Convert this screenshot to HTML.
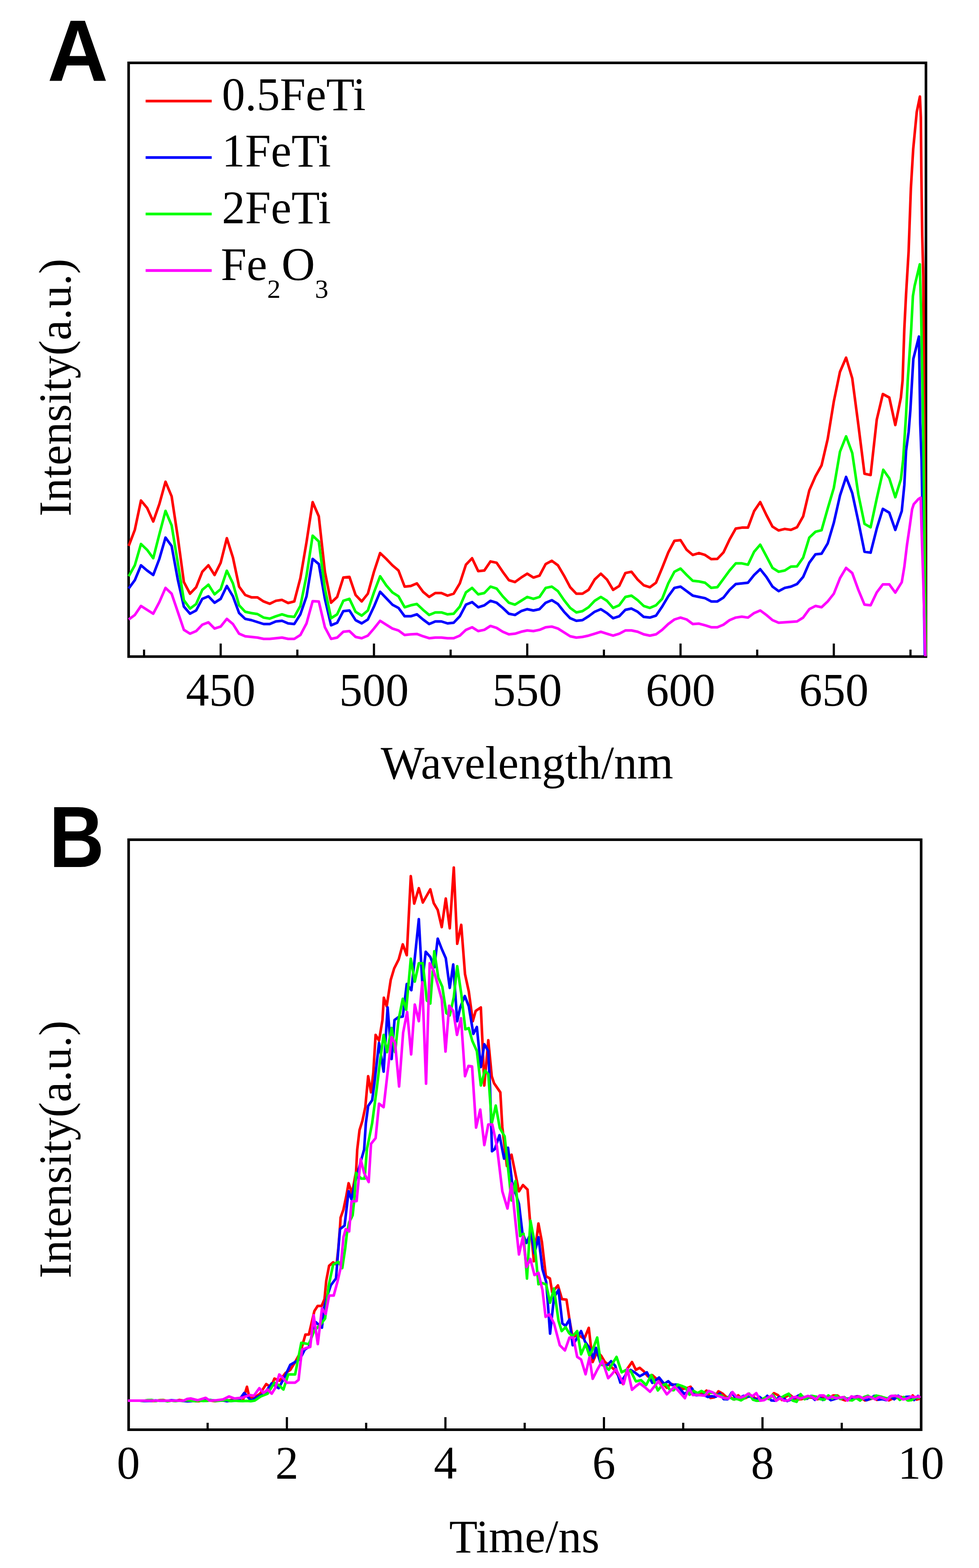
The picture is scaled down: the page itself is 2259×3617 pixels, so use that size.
<!DOCTYPE html><html><head><meta charset="utf-8"><title>Figure</title>
<style>html,body{margin:0;padding:0;background:#fff;}svg{display:block;}</style></head><body>
<svg width="2259" height="3617" viewBox="0 0 2259 3617">
<rect width="2259" height="3617" fill="#fff"/>
<path d="M332.4 1514.6V1498.6M509.2 1514.6V1484.6M686.1 1514.6V1498.6M862.9 1514.6V1484.6M1039.8 1514.6V1498.6M1216.6 1514.6V1484.6M1393.5 1514.6V1498.6M1570.3 1514.6V1484.6M1747.2 1514.6V1498.6M1924.0 1514.6V1484.6M2100.9 1514.6V1498.6" stroke="#000" stroke-width="5" fill="none"/>
<rect x="296.8" y="145.0" width="1839.8" height="1369.6" fill="none" stroke="#000" stroke-width="6.0"/>
<g fill="none" stroke-linejoin="round" stroke-linecap="butt" stroke-width="6.0">
<path stroke="#ff0000" d="M297.0 1259.4L311.1 1222.2L325.3 1154.6L339.4 1171.6L353.6 1202.9L367.7 1162.7L381.9 1111.2L396.0 1144.8L410.2 1238.6L424.3 1342.7L438.5 1369.5L452.6 1354.6L466.8 1318.9L480.9 1304.0L495.1 1326.4L509.2 1298.1L523.4 1241.5L537.5 1286.2L551.7 1353.2L565.8 1372.5L580.0 1377.9L594.1 1377.9L608.3 1387.4L622.4 1392.7L636.6 1385.9L650.7 1383.8L664.8 1391.0L679.0 1387.4L693.1 1333.8L707.3 1250.5L721.4 1158.2L735.6 1191.0L749.7 1318.9L763.9 1390.4L778.0 1377.0L792.2 1332.3L806.3 1330.8L820.5 1372.5L834.6 1387.4L848.8 1369.5L862.9 1318.9L877.1 1275.8L891.2 1289.2L905.4 1304.0L919.5 1316.0L933.7 1353.2L947.8 1351.7L962.0 1345.7L976.1 1365.1L990.3 1377.0L1004.4 1368.0L1018.5 1368.0L1032.7 1374.0L1046.8 1369.5L1061.0 1345.7L1075.1 1302.6L1089.3 1287.7L1103.4 1317.4L1117.6 1316.0L1131.7 1295.1L1145.9 1298.1L1160.0 1318.9L1174.2 1338.3L1188.3 1342.7L1202.5 1332.3L1216.6 1323.4L1230.8 1332.3L1244.9 1327.9L1259.1 1301.1L1273.2 1293.6L1287.4 1304.0L1301.5 1327.9L1315.7 1354.6L1329.8 1369.5L1344.0 1369.5L1358.1 1360.6L1372.2 1336.8L1386.4 1323.4L1400.5 1336.8L1414.7 1360.6L1428.8 1351.7L1443.0 1321.9L1457.1 1318.9L1471.3 1336.8L1485.4 1350.2L1499.6 1354.6L1513.7 1344.2L1527.9 1310.0L1542.0 1274.3L1556.2 1247.5L1570.3 1246.0L1584.5 1268.3L1598.6 1280.2L1612.8 1275.8L1626.9 1280.2L1641.1 1289.8L1655.2 1289.2L1669.4 1274.3L1683.5 1244.5L1697.7 1219.2L1711.8 1217.1L1725.9 1217.1L1740.1 1179.0L1754.2 1158.2L1768.4 1188.0L1782.5 1214.8L1796.7 1223.7L1810.8 1220.1L1825.0 1222.2L1839.1 1216.2L1853.3 1191.0L1867.4 1131.4L1881.6 1098.8L1895.7 1073.5L1909.9 1012.5L1924.0 926.0L1938.2 857.7L1952.3 825.0L1966.5 872.6L1980.6 979.8L1994.8 1092.9L2008.9 1095.8L2023.1 967.9L2037.1 909.0L2052.0 917.0L2065.9 980.5L2078.8 917.0L2082.7 877.4L2086.7 758.4L2090.7 679.0L2096.6 580.0L2101.8 434.5L2107.2 343.6L2115.4 258.0L2122.7 222.7L2124.8 271.0L2126.0 400.0L2128.0 543.0L2130.5 640.0L2136.0 1512.0"/>
<path stroke="#0000ff" d="M297.0 1357.6L311.1 1338.3L325.3 1304.0L339.4 1316.0L353.6 1326.4L367.7 1289.2L381.9 1240.1L396.0 1259.4L410.2 1336.8L424.3 1399.3L438.5 1415.7L452.6 1408.2L466.8 1381.4L480.9 1375.5L495.1 1390.4L509.2 1381.4L523.4 1351.7L537.5 1375.5L551.7 1414.2L565.8 1427.6L580.0 1430.5L594.1 1435.0L608.3 1439.5L622.4 1439.5L636.6 1433.5L650.7 1432.0L664.8 1438.0L679.0 1439.5L693.1 1417.1L707.3 1375.5L721.4 1289.2L735.6 1301.1L749.7 1381.4L763.9 1442.4L778.0 1436.5L792.2 1409.7L806.3 1408.2L820.5 1430.5L834.6 1438.0L848.8 1429.0L862.9 1399.3L877.1 1365.1L891.2 1379.9L905.4 1394.8L919.5 1402.3L933.7 1421.6L947.8 1421.6L962.0 1417.1L976.1 1429.0L990.3 1439.5L1004.4 1433.5L1018.5 1433.5L1032.7 1438.0L1046.8 1436.5L1061.0 1421.6L1075.1 1394.8L1089.3 1388.9L1103.4 1400.8L1117.6 1396.3L1131.7 1385.9L1145.9 1390.4L1160.0 1402.3L1174.2 1415.7L1188.3 1418.6L1202.5 1409.7L1216.6 1405.2L1230.8 1408.2L1244.9 1405.2L1259.1 1390.4L1273.2 1384.4L1287.4 1393.3L1301.5 1411.2L1315.7 1426.1L1329.8 1432.0L1344.0 1430.5L1358.1 1421.6L1372.2 1411.2L1386.4 1405.2L1400.5 1414.2L1414.7 1426.1L1428.8 1421.6L1443.0 1406.7L1457.1 1403.8L1471.3 1411.2L1485.4 1423.1L1499.6 1424.6L1513.7 1420.1L1527.9 1399.3L1542.0 1375.5L1556.2 1356.1L1570.3 1353.2L1584.5 1363.6L1598.6 1374.0L1612.8 1377.0L1626.9 1379.9L1641.1 1387.4L1655.2 1387.4L1669.4 1378.5L1683.5 1360.6L1697.7 1347.2L1711.8 1345.7L1725.9 1344.2L1740.1 1326.4L1754.2 1313.0L1768.4 1330.8L1782.5 1353.2L1796.7 1363.6L1810.8 1356.1L1825.0 1353.2L1839.1 1347.2L1853.3 1330.8L1867.4 1298.1L1881.6 1278.8L1895.7 1277.3L1909.9 1253.5L1924.0 1205.8L1938.2 1143.3L1952.3 1100.2L1966.5 1137.4L1980.6 1202.9L1994.8 1272.8L2008.9 1274.9L2023.3 1218.4L2037.1 1173.8L2052.0 1182.7L2065.9 1222.4L2080.8 1178.8L2086.7 1119.0L2090.7 1040.0L2096.6 996.3L2100.6 946.8L2104.6 877.4L2107.5 827.8L2112.5 808.0L2120.4 776.3L2121.4 837.7L2123.4 976.5L2126.4 1060.0L2134.0 1512.0"/>
<path stroke="#00ff00" d="M297.0 1329.3L311.1 1304.0L325.3 1254.9L339.4 1268.3L353.6 1287.7L367.7 1232.6L381.9 1178.5L396.0 1211.8L410.2 1298.1L424.3 1384.4L438.5 1403.8L452.6 1393.3L466.8 1360.6L480.9 1348.7L495.1 1371.0L509.2 1359.1L523.4 1316.5L537.5 1345.7L551.7 1396.3L565.8 1411.2L580.0 1414.2L594.1 1416.5L608.3 1424.6L622.4 1427.0L636.6 1421.6L650.7 1417.1L664.8 1421.6L679.0 1423.1L693.1 1397.8L707.3 1327.9L721.4 1235.6L735.6 1249.0L749.7 1357.6L763.9 1426.1L778.0 1417.1L792.2 1385.9L806.3 1381.4L820.5 1411.2L834.6 1420.1L848.8 1408.2L862.9 1366.5L877.1 1329.3L891.2 1350.2L905.4 1366.5L919.5 1375.5L933.7 1400.8L947.8 1396.3L962.0 1393.3L976.1 1406.7L990.3 1418.6L1004.4 1412.7L1018.5 1412.7L1032.7 1417.1L1046.8 1415.7L1061.0 1399.3L1075.1 1366.5L1089.3 1356.1L1103.4 1371.0L1117.6 1368.0L1131.7 1353.2L1145.9 1357.6L1160.0 1375.5L1174.2 1390.4L1188.3 1394.8L1202.5 1385.9L1216.6 1377.0L1230.8 1381.4L1244.9 1377.0L1259.1 1356.1L1273.2 1353.2L1287.4 1363.6L1301.5 1384.4L1315.7 1402.3L1329.8 1412.7L1344.0 1409.7L1358.1 1400.8L1372.2 1385.9L1386.4 1377.0L1400.5 1385.9L1414.7 1402.3L1428.8 1396.3L1443.0 1377.0L1457.1 1374.0L1471.3 1384.4L1485.4 1397.8L1499.6 1402.3L1513.7 1396.3L1527.9 1381.4L1542.0 1345.7L1556.2 1318.9L1570.3 1311.5L1584.5 1326.4L1598.6 1339.8L1612.8 1341.2L1626.9 1344.2L1641.1 1356.1L1655.2 1354.6L1669.4 1335.3L1683.5 1316.0L1697.7 1299.6L1711.8 1299.6L1725.9 1302.6L1740.1 1272.8L1754.2 1256.4L1768.4 1283.2L1782.5 1310.0L1796.7 1318.9L1810.8 1316.0L1825.0 1307.0L1839.1 1306.4L1853.3 1286.2L1867.4 1240.1L1881.6 1226.7L1895.7 1223.1L1909.9 1173.1L1924.0 1125.5L1938.2 1042.0L1952.3 1006.5L1966.5 1045.0L1980.6 1140.5L1994.8 1208.5L2008.9 1216.4L2023.3 1149.0L2038.1 1083.6L2052.0 1103.4L2065.9 1147.0L2078.8 1105.4L2084.0 1060.0L2090.7 956.7L2094.6 877.0L2098.6 818.0L2102.6 758.4L2106.5 683.0L2110.5 659.3L2122.4 609.7L2125.4 718.8L2128.3 877.4L2131.3 1060.0L2136.0 1512.0"/>
<path stroke="#ff00ff" d="M297.0 1429.0L311.1 1418.6L325.3 1397.8L339.4 1406.7L353.6 1415.7L367.7 1388.9L381.9 1356.1L396.0 1369.5L410.2 1411.2L424.3 1452.9L438.5 1461.8L452.6 1455.8L466.8 1441.0L480.9 1435.6L495.1 1449.9L509.2 1445.4L523.4 1427.6L537.5 1439.5L551.7 1461.8L565.8 1467.7L580.0 1469.2L594.1 1470.7L608.3 1473.7L622.4 1473.7L636.6 1472.2L650.7 1470.7L664.8 1473.7L679.0 1473.7L693.1 1464.8L707.3 1438.0L721.4 1386.8L735.6 1387.4L749.7 1446.9L763.9 1473.7L778.0 1470.7L792.2 1457.3L806.3 1455.8L820.5 1469.2L834.6 1472.2L848.8 1466.2L862.9 1449.9L877.1 1432.0L891.2 1441.0L905.4 1449.9L919.5 1454.3L933.7 1464.8L947.8 1463.3L962.0 1462.4L976.1 1467.7L990.3 1472.2L1004.4 1470.7L1018.5 1470.7L1032.7 1472.2L1046.8 1472.2L1061.0 1466.2L1075.1 1452.9L1089.3 1446.9L1103.4 1455.8L1117.6 1452.9L1131.7 1443.9L1145.9 1448.4L1160.0 1457.3L1174.2 1463.3L1188.3 1461.8L1202.5 1457.3L1216.6 1454.3L1230.8 1455.8L1244.9 1452.9L1259.1 1446.9L1273.2 1445.4L1287.4 1449.9L1301.5 1458.8L1315.7 1467.7L1329.8 1470.7L1344.0 1469.2L1358.1 1466.2L1372.2 1461.8L1386.4 1457.3L1400.5 1461.8L1414.7 1466.2L1428.8 1461.8L1443.0 1454.3L1457.1 1454.3L1471.3 1457.3L1485.4 1463.3L1499.6 1466.2L1513.7 1463.3L1527.9 1452.9L1542.0 1439.5L1556.2 1429.0L1570.3 1424.6L1584.5 1429.0L1598.6 1439.5L1612.8 1438.6L1626.9 1442.4L1641.1 1446.9L1655.2 1446.9L1669.4 1441.0L1683.5 1430.5L1697.7 1424.6L1711.8 1422.5L1725.9 1424.6L1740.1 1414.2L1754.2 1408.2L1768.4 1418.6L1782.5 1430.5L1796.7 1436.5L1810.8 1435.6L1825.0 1434.4L1839.1 1433.5L1853.3 1424.6L1867.4 1405.2L1881.6 1397.8L1895.7 1400.8L1909.9 1387.4L1924.0 1369.5L1938.2 1333.8L1952.3 1310.0L1966.5 1321.9L1980.6 1360.6L1994.8 1394.8L2008.9 1396.3L2023.1 1366.5L2037.1 1348.0L2052.0 1348.0L2065.9 1367.0L2080.8 1343.0L2086.7 1307.6L2092.7 1258.0L2098.6 1218.0L2104.6 1174.8L2108.5 1163.0L2119.4 1151.0L2124.4 1148.0L2126.4 1218.0L2130.3 1337.0L2135.3 1514.0"/>
</g>
<line x1="336" x2="488.5" y1="233.1" y2="233.1" stroke="#ff0000" stroke-width="6.3"/>
<line x1="336" x2="488.5" y1="363.4" y2="363.4" stroke="#0000ff" stroke-width="6.3"/>
<line x1="336" x2="488.5" y1="493.7" y2="493.7" stroke="#00ff00" stroke-width="6.3"/>
<line x1="336" x2="488.5" y1="624.0" y2="624.0" stroke="#ff00ff" stroke-width="6.3"/>
<g font-family="'Liberation Serif','Times New Roman',serif" font-size="107" fill="#000">
<text x="512" y="253.7">0.5FeTi</text>
<text x="512" y="384.35">1FeTi</text>
<text x="512" y="515">2FeTi</text>
<text x="509.5" y="645.7">Fe<tspan font-size="62" dy="41.3">2</tspan><tspan dy="-41.3" dx="2">O</tspan><tspan font-size="62" dy="41.3">3</tspan></text>
<text x="509.2" y="1628" text-anchor="middle">450</text>
<text x="862.9" y="1628" text-anchor="middle">500</text>
<text x="1216.6" y="1628" text-anchor="middle">550</text>
<text x="1570.3" y="1628" text-anchor="middle">600</text>
<text x="1924.0" y="1628" text-anchor="middle">650</text>
<text x="1216" y="1796" text-anchor="middle">Wavelength/nm</text>
<text font-size="106" transform="translate(163 894) rotate(-90)" text-anchor="middle">Intensity(a.u.)</text>
<text x="296.2" y="3411" text-anchor="middle">0</text>
<text x="662.0" y="3411" text-anchor="middle">2</text>
<text x="1027.8" y="3411" text-anchor="middle">4</text>
<text x="1393.6" y="3411" text-anchor="middle">6</text>
<text x="1759.4" y="3411" text-anchor="middle">8</text>
<text x="2125.2" y="3411" text-anchor="middle">10</text>
<text x="1210" y="3580.6" text-anchor="middle">Time/ns</text>
<text font-size="106" transform="translate(163 2651.5) rotate(-90)" text-anchor="middle">Intensity(a.u.)</text>
</g>
<path d="M479.1 3298.0V3282.0M662.0 3298.0V3269.0M844.9 3298.0V3282.0M1027.8 3298.0V3269.0M1210.7 3298.0V3282.0M1393.6 3298.0V3269.0M1576.5 3298.0V3282.0M1759.4 3298.0V3269.0M1942.3 3298.0V3282.0" stroke="#000" stroke-width="5" fill="none"/>
<rect x="296.8" y="1937.0" width="1828.7" height="1361.0" fill="none" stroke="#000" stroke-width="6.0"/>
<g fill="none" stroke-linejoin="round" stroke-linecap="butt" stroke-width="6.0">
<path stroke="#ff0000" d="M295.0 3231.0L304.1 3231.0L313.3 3231.0L322.4 3231.0L331.6 3231.0L340.7 3230.8L349.9 3231.5L359.0 3231.9L368.2 3229.8L377.3 3229.6L386.5 3232.0L395.6 3230.8L404.8 3231.8L413.9 3229.5L423.1 3230.8L432.2 3231.7L441.4 3230.2L450.5 3232.3L459.7 3232.2L468.8 3229.6L478.0 3229.6L487.1 3231.1L496.3 3232.3L505.4 3230.6L514.6 3230.1L523.7 3230.8L532.9 3229.6L542.0 3230.2L551.2 3230.8L560.3 3231.0L569.8 3199.0L576.0 3226.0L590.0 3222.0L600.0 3215.0L614.3 3192.7L625.0 3200.0L633.3 3180.0L645.0 3185.0L658.7 3167.3L670.0 3160.0L681.0 3141.9L693.0 3120.0L704.8 3078.4L712.7 3078.4L725.4 3024.4L733.0 3012.4L742.2 3012.4L748.8 2996.6L752.8 2954.2L759.4 2919.8L768.7 2911.9L776.6 2917.2L780.6 2880.2L784.6 2829.9L785.9 2808.7L792.5 2790.2L799.1 2758.5L804.4 2729.4L812.3 2753.2L821.6 2702.9L824.3 2651.9L829.6 2606.9L836.2 2585.7L842.9 2554.0L849.5 2482.5L856.1 2519.6L861.4 2474.6L866.7 2387.3L874.6 2400.5L882.5 2352.9L885.7 2301.4L892.3 2321.3L901.6 2260.4L909.5 2234.0L920.1 2212.8L929.4 2178.4L938.6 2203.5L947.9 2021.0L955.8 2084.5L966.4 2048.8L975.7 2081.9L992.9 2051.4L1000.8 2083.2L1010.0 2099.0L1019.3 2138.7L1028.6 2072.6L1037.8 2141.4L1047.1 2001.2L1055.0 2177.0L1064.3 2133.4L1073.0 2247.0L1081.7 2287.0L1091.0 2355.8L1097.6 2332.0L1109.5 2324.0L1113.5 2408.7L1117.5 2504.0L1126.7 2399.5L1134.7 2482.8L1140.0 2498.7L1154.5 2519.8L1159.1 2600.0L1169.7 2690.0L1180.3 2663.5L1197.5 2748.1L1206.7 2733.6L1217.3 2744.2L1222.6 2811.6L1231.9 2909.5L1242.4 2822.2L1250.4 2864.6L1259.6 2943.9L1268.9 2949.2L1274.2 2981.0L1287.4 2965.1L1296.7 2996.8L1307.2 2998.1L1314.0 3043.7L1321.4 3085.4L1330.0 3080.0L1339.3 3082.4L1348.2 3088.3L1358.6 3063.0L1367.6 3141.9L1378.0 3118.1L1386.9 3127.0L1395.8 3141.9L1406.3 3149.3L1418.0 3160.0L1428.0 3175.0L1437.5 3192.5L1447.9 3156.8L1458.3 3141.9L1467.3 3159.8L1476.2 3155.3L1485.1 3162.7L1495.0 3175.0L1505.0 3172.0L1514.0 3180.0L1523.8 3185.0L1538.7 3201.4L1547.9 3192.2L1557.0 3194.8L1566.2 3196.9L1575.3 3203.9L1584.5 3202.5L1593.6 3198.9L1602.8 3216.8L1611.9 3212.6L1621.1 3215.7L1630.2 3207.7L1639.4 3224.9L1648.5 3223.2L1657.7 3209.3L1666.8 3214.3L1676.0 3222.8L1685.1 3223.2L1694.3 3228.3L1703.4 3218.6L1712.6 3227.2L1721.7 3224.4L1730.9 3217.5L1740.0 3223.5L1749.2 3229.7L1758.3 3229.3L1767.5 3222.7L1776.6 3224.6L1785.8 3213.7L1794.9 3218.1L1804.1 3229.4L1813.2 3221.8L1822.4 3217.2L1831.5 3224.8L1840.7 3228.0L1849.8 3227.5L1859.0 3222.6L1868.1 3223.5L1877.3 3224.4L1886.4 3227.7L1895.6 3224.7L1904.7 3223.2L1913.9 3224.4L1923.0 3218.9L1932.2 3219.1L1941.3 3227.1L1950.5 3230.5L1959.6 3225.8L1968.8 3223.5L1977.9 3220.8L1987.1 3224.8L1996.2 3230.6L2005.4 3228.1L2014.5 3225.3L2023.7 3229.2L2032.8 3221.7L2042.0 3225.1L2051.1 3230.3L2060.3 3225.8L2069.4 3224.4L2078.6 3222.2L2087.7 3225.5L2096.9 3230.4L2106.0 3219.0L2115.2 3228.4L2122.5 3226.3"/>
<path stroke="#0000ff" d="M295.0 3231.0L304.1 3231.0L313.3 3231.0L322.4 3231.0L331.6 3232.0L340.7 3231.7L349.9 3231.5L359.0 3230.4L368.2 3231.3L377.3 3231.3L386.5 3231.2L395.6 3230.0L404.8 3230.8L413.9 3230.7L423.1 3231.7L432.2 3232.5L441.4 3232.3L450.5 3231.1L459.7 3230.8L468.8 3230.3L478.0 3229.6L487.1 3229.6L496.3 3230.9L505.4 3230.5L514.6 3230.6L523.7 3232.2L532.9 3231.1L542.0 3231.2L551.2 3230.2L563.5 3213.3L579.4 3230.8L595.0 3222.0L610.0 3215.0L627.0 3191.1L642.9 3202.2L655.0 3180.0L669.8 3148.3L681.0 3141.9L692.0 3135.0L703.2 3113.3L712.7 3107.0L720.0 3080.0L728.6 3049.8L742.9 3062.5L747.5 3017.7L755.0 2990.0L763.4 2964.8L775.3 2949.0L784.6 2835.2L795.1 2827.2L804.4 2747.9L811.0 2766.4L820.0 2725.0L827.0 2700.0L834.9 2670.4L840.2 2651.9L844.2 2591.0L849.5 2551.3L858.7 2538.0L864.0 2498.4L874.6 2405.8L885.2 2472.0L894.4 2323.8L903.7 2442.9L910.3 2352.9L919.6 2346.3L929.4 2345.0L938.6 2269.7L949.2 2284.2L957.1 2210.2L966.4 2120.2L974.3 2265.7L982.3 2195.6L992.9 2207.5L1002.1 2231.3L1010.0 2165.2L1019.3 2189.0L1028.6 2210.2L1037.8 2278.9L1045.8 2224.7L1055.0 2355.7L1061.9 2324.0L1072.5 2297.6L1081.7 2321.4L1092.3 2385.0L1100.3 2369.0L1109.5 2461.6L1117.5 2408.7L1126.7 2424.6L1131.0 2514.6L1135.3 2655.6L1141.9 2650.3L1152.5 2618.5L1163.1 2672.8L1172.3 2647.6L1181.6 2727.0L1197.5 2777.2L1205.4 2843.4L1214.7 2867.2L1225.2 2843.4L1233.2 2891.0L1242.4 2854.0L1251.7 2928.0L1260.4 2957.4L1269.3 3076.4L1278.3 2993.0L1288.7 2975.2L1297.6 3052.6L1305.1 3058.6L1314.0 3043.7L1321.4 3103.2L1330.4 3088.3L1340.8 3070.5L1350.0 3095.0L1360.1 3109.2L1369.0 3133.0L1375.0 3109.2L1386.9 3147.9L1400.0 3150.0L1410.0 3140.0L1419.6 3150.8L1431.5 3189.5L1445.0 3170.0L1455.0 3160.0L1464.3 3165.7L1476.2 3174.6L1492.6 3165.7L1505.0 3190.0L1520.8 3177.6L1532.7 3192.5L1541.9 3186.1L1551.0 3195.0L1560.2 3193.8L1569.3 3203.5L1578.5 3215.4L1587.6 3210.8L1596.8 3202.7L1605.9 3218.4L1615.1 3217.9L1624.2 3217.9L1633.4 3222.5L1642.5 3220.7L1651.7 3222.1L1660.8 3214.2L1670.0 3227.5L1679.1 3227.8L1688.3 3212.4L1697.4 3224.9L1706.6 3224.6L1715.7 3220.0L1724.9 3221.8L1734.0 3221.3L1743.2 3230.4L1752.3 3222.2L1761.5 3229.1L1770.6 3219.8L1779.8 3230.6L1788.9 3231.1L1798.1 3222.5L1807.2 3224.8L1816.4 3232.0L1825.5 3228.2L1834.7 3223.6L1843.8 3218.4L1853.0 3222.0L1862.1 3226.6L1871.3 3220.2L1880.4 3229.2L1889.6 3221.6L1898.7 3229.4L1907.9 3222.2L1917.0 3230.0L1926.2 3227.1L1935.3 3224.7L1944.5 3224.9L1953.6 3226.5L1962.8 3225.8L1971.9 3222.5L1981.1 3221.3L1990.2 3224.9L1999.4 3230.0L2008.5 3226.3L2017.7 3219.8L2026.8 3228.7L2036.0 3227.6L2045.1 3229.8L2054.3 3221.2L2063.4 3227.8L2072.6 3219.6L2081.7 3226.8L2090.9 3222.2L2100.0 3221.7L2109.2 3229.5L2118.3 3220.2L2122.5 3225.1"/>
<path stroke="#00ff00" d="M295.0 3231.0L304.1 3231.0L313.3 3231.0L322.4 3231.0L331.6 3231.4L340.7 3229.7L349.9 3229.5L359.0 3232.0L368.2 3230.3L377.3 3230.2L386.5 3232.5L395.6 3230.9L404.8 3232.0L413.9 3230.9L423.1 3231.4L432.2 3230.0L441.4 3231.4L450.5 3232.1L459.7 3231.1L468.8 3231.7L478.0 3231.5L487.1 3229.7L496.3 3231.8L505.4 3231.3L514.6 3230.4L523.7 3229.6L532.9 3232.1L542.0 3230.9L551.2 3231.7L560.3 3232.1L569.5 3231.6L578.6 3232.3L587.8 3230.7L601.6 3221.3L617.5 3214.9L633.3 3189.5L643.0 3195.0L654.0 3205.4L665.1 3170.5L681.0 3170.5L695.2 3097.5L712.7 3100.6L725.0 3070.0L740.0 3055.0L750.2 3041.5L758.1 2967.5L768.7 2917.2L780.6 2910.6L789.8 2925.1L796.5 2880.2L800.4 2845.8L805.7 2819.3L813.7 2803.4L817.6 2766.4L821.6 2705.6L833.5 2718.8L841.4 2718.8L846.7 2650.0L850.8 2630.7L858.7 2591.0L869.3 2511.6L877.2 2445.5L885.2 2387.3L893.1 2427.0L903.7 2371.4L911.6 2427.0L919.6 2352.9L929.4 2304.0L937.3 2329.2L947.9 2211.5L957.1 2264.4L966.4 2222.0L975.7 2222.0L984.9 2308.0L992.9 2314.7L1002.1 2194.3L1011.4 2255.1L1020.6 2276.3L1029.9 2337.1L1037.8 2342.4L1047.1 2300.1L1055.0 2228.7L1064.3 2292.2L1073.8 2374.3L1081.7 2371.7L1089.7 2400.8L1100.3 2424.6L1109.5 2504.0L1118.8 2469.6L1126.7 2477.5L1134.7 2591.3L1143.9 2550.3L1153.2 2601.9L1164.4 2621.2L1180.3 2769.3L1189.5 2724.3L1200.1 2851.3L1208.0 2846.0L1216.0 2949.2L1223.9 2815.6L1233.2 2864.6L1242.4 2962.4L1251.7 2959.8L1260.4 2963.3L1269.3 3005.0L1278.3 2972.3L1288.7 3046.7L1296.1 3070.5L1305.1 3061.5L1313.0 3075.0L1321.4 3082.4L1331.8 3070.5L1340.8 3124.0L1351.2 3100.2L1360.1 3127.0L1369.0 3110.0L1378.0 3085.4L1386.9 3147.9L1395.0 3150.0L1404.8 3159.8L1422.6 3130.0L1434.5 3165.7L1445.0 3160.0L1455.4 3162.7L1467.3 3186.5L1479.2 3183.6L1491.0 3195.0L1503.0 3171.7L1517.9 3207.4L1527.1 3196.4L1536.2 3192.6L1545.4 3205.4L1554.5 3207.0L1563.7 3193.9L1572.8 3196.9L1582.0 3200.5L1591.1 3217.3L1600.3 3208.4L1609.4 3213.7L1618.6 3208.5L1627.7 3213.8L1636.9 3212.5L1646.0 3212.8L1655.2 3218.4L1664.3 3219.1L1673.5 3226.3L1682.6 3222.5L1691.8 3228.0L1700.9 3227.1L1710.1 3230.3L1719.2 3224.3L1728.4 3214.6L1737.5 3228.9L1746.7 3231.3L1755.8 3230.4L1765.0 3223.9L1774.1 3227.1L1783.3 3217.2L1792.4 3229.8L1801.6 3224.8L1810.7 3219.2L1819.9 3214.9L1829.0 3230.9L1838.2 3233.7L1847.3 3215.8L1856.5 3227.7L1865.6 3223.1L1874.8 3220.1L1883.9 3221.9L1893.1 3227.6L1902.2 3228.9L1911.4 3219.0L1920.5 3225.9L1929.7 3219.1L1938.8 3227.3L1948.0 3222.6L1957.1 3229.3L1966.3 3230.5L1975.4 3224.8L1984.6 3230.8L1993.7 3222.5L2002.9 3219.7L2012.0 3226.0L2021.2 3219.2L2030.3 3221.2L2039.5 3223.8L2048.6 3226.2L2057.8 3220.8L2066.9 3219.4L2076.1 3229.3L2085.2 3222.7L2094.4 3230.4L2103.5 3229.7L2112.7 3223.5L2121.8 3224.5L2122.5 3225.1"/>
<path stroke="#ff00ff" d="M295.0 3231.0L304.1 3231.0L313.3 3231.0L322.4 3231.0L331.6 3231.0L340.7 3231.0L349.9 3231.0L359.0 3231.0L368.2 3231.0L377.3 3231.0L386.5 3231.0L395.6 3231.0L404.8 3231.0L413.9 3231.0L423.8 3231.0L432.0 3227.0L440.0 3226.0L456.0 3230.0L474.6 3224.4L484.0 3231.0L500.0 3230.0L515.0 3228.0L528.6 3221.3L541.3 3226.0L560.0 3224.0L576.2 3218.0L585.7 3219.7L598.4 3202.2L607.9 3213.3L617.5 3205.4L627.0 3214.9L634.9 3202.2L644.4 3170.5L652.4 3178.4L661.9 3189.5L681.0 3189.5L688.9 3183.2L696.8 3113.3L704.8 3110.2L715.9 3107.0L723.8 3034.0L733.3 3100.6L742.9 3018.1L751.5 3031.0L759.4 2988.6L770.0 2988.6L779.3 2954.2L785.9 2925.1L792.5 2853.7L797.8 2835.2L805.7 2840.5L811.0 2771.7L822.9 2770.4L832.2 2673.8L840.1 2705.6L850.7 2726.7L856.1 2638.6L866.7 2625.4L874.6 2546.0L885.2 2554.0L893.1 2485.2L903.7 2392.6L911.6 2405.8L920.9 2506.3L930.2 2382.0L939.4 2334.4L948.7 2432.3L957.1 2317.3L966.4 2355.7L974.3 2265.7L983.1 2499.7L991.5 2222.0L1000.8 2239.3L1010.0 2271.0L1019.3 2305.4L1028.0 2425.7L1036.5 2320.0L1045.8 2331.9L1054.5 2387.3L1063.8 2348.9L1073.0 2482.5L1081.0 2458.7L1089.3 2460.0L1098.5 2601.0L1108.2 2559.5L1117.5 2641.5L1126.7 2593.9L1136.0 2593.9L1146.6 2644.2L1159.1 2748.1L1171.0 2787.8L1180.3 2729.6L1189.5 2819.6L1197.5 2893.7L1206.7 2852.6L1214.7 2922.8L1223.9 2904.2L1233.2 2941.3L1242.4 2936.0L1251.7 2975.7L1258.9 3037.7L1267.9 3031.8L1278.3 3052.6L1291.7 3103.2L1303.6 3115.1L1314.0 3085.4L1322.9 3085.4L1331.8 3130.0L1340.8 3136.0L1351.2 3170.2L1360.1 3131.5L1367.6 3180.6L1378.0 3160.0L1389.9 3138.9L1403.3 3179.1L1412.0 3170.0L1421.1 3158.3L1439.0 3192.5L1447.9 3158.3L1458.3 3205.9L1467.0 3198.0L1476.2 3191.0L1488.0 3200.0L1500.0 3210.4L1519.3 3186.5L1538.7 3216.3L1556.5 3198.5L1580.4 3225.2L1589.6 3202.0L1598.7 3217.9L1607.9 3217.5L1617.0 3218.4L1626.2 3219.5L1635.3 3208.5L1644.5 3211.8L1653.6 3219.0L1662.8 3222.0L1671.9 3225.2L1681.1 3226.3L1690.2 3211.1L1699.4 3222.0L1708.5 3223.8L1717.7 3221.0L1726.8 3214.8L1736.0 3221.1L1745.1 3213.7L1754.3 3230.9L1763.4 3229.8L1772.6 3223.7L1781.7 3219.0L1790.9 3231.3L1800.0 3224.8L1809.2 3231.1L1818.3 3230.6L1827.5 3223.9L1836.6 3222.2L1845.8 3226.0L1854.9 3223.3L1864.1 3220.1L1873.2 3221.9L1882.4 3228.1L1891.5 3218.9L1900.7 3219.0L1909.8 3226.0L1919.0 3221.9L1928.1 3225.0L1937.3 3224.3L1946.4 3222.8L1955.6 3230.7L1964.7 3221.1L1973.9 3223.7L1983.0 3221.2L1992.2 3226.4L2001.3 3222.1L2010.5 3223.1L2019.6 3227.8L2028.8 3222.7L2037.9 3225.6L2047.1 3229.7L2056.2 3220.1L2065.4 3219.7L2074.5 3221.7L2083.7 3228.1L2092.8 3226.3L2102.0 3221.8L2111.1 3222.9L2120.3 3221.1L2122.5 3224.8"/>
</g>
<g font-family="'Liberation Sans',Arial,sans-serif" font-weight="bold" fill="#000">
<text font-size="200.5" transform="translate(109.5 186) scale(0.967 1)">A</text>
<text font-size="201" transform="translate(113.2 2000) scale(0.877 1)">B</text>
</g>
</svg></body></html>
